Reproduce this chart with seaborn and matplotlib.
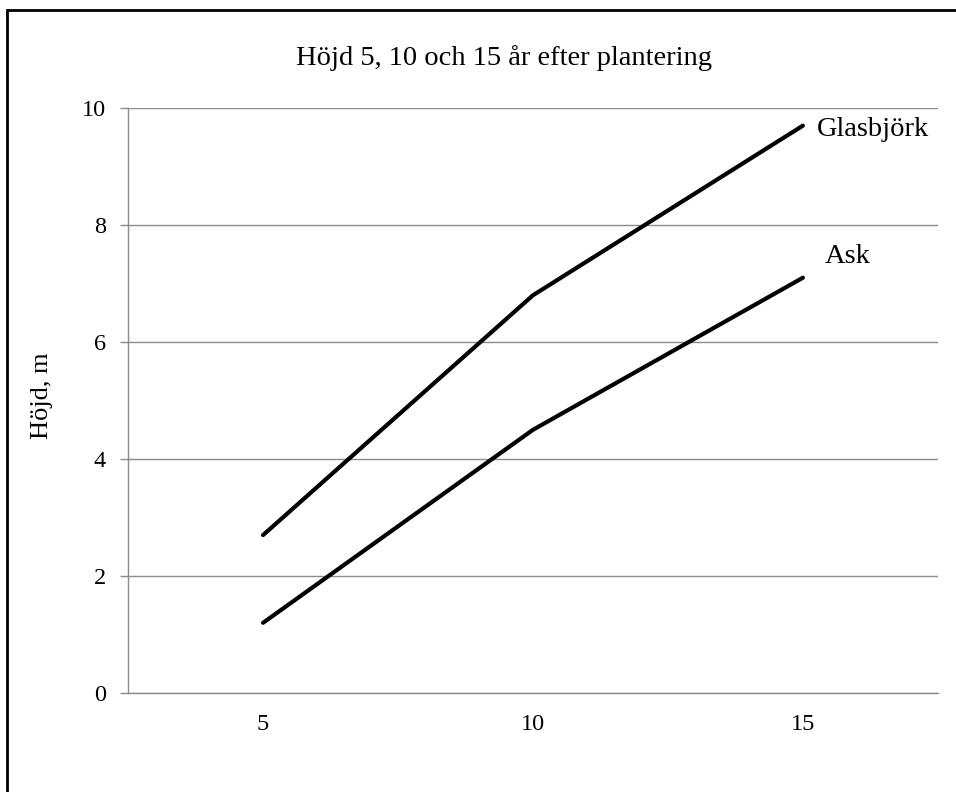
import matplotlib
matplotlib.use("Agg")
import matplotlib.pyplot as plt
import matplotlib.patches as patches
import seaborn as sns
import pandas as pd

# data
years = ["5", "10", "15"]
glasbjork = [2.7, 6.8, 9.7]
ask = [1.2, 4.5, 7.1]
series_names = ["Glasbjörk", "Ask"]

df = pd.DataFrame({
    "År": years * 2,
    "Höjd": glasbjork + ask,
    "Art": [series_names[0]] * 3 + [series_names[1]] * 3,
})

sns.set_theme(style="white")
plt.rcParams['font.family'] = ['Liberation Serif', 'DejaVu Serif']
plt.rcParams['text.color'] = 'black'

fig = plt.figure(figsize=(9.56, 7.92), dpi=100)
ax = fig.add_axes([0.134, 0.125, 0.847, 0.7385])

sns.lineplot(data=df, x="År", y="Höjd", hue="Art", sort=False,
             palette=["black", "black"], linewidth=3, legend=False, ax=ax)

ax.set_xlim(-0.5, 2.5)
ax.set_ylim(0, 10)
ax.set_yticks([0, 2, 4, 6, 8, 10])
ax.yaxis.grid(True, color="#8c8c8c", linewidth=1)
ax.set_axisbelow(True)
for side in ["top", "right"]:
    ax.spines[side].set_visible(False)
for side in ["left", "bottom"]:
    ax.spines[side].set_color("#8c8c8c")
    ax.spines[side].set_linewidth(1)
ax.tick_params(axis="y", length=6, width=1, color="#8c8c8c", labelcolor="black",
               labelsize=17.5, pad=10, left=True)
ax.tick_params(axis="x", length=0, labelsize=17.5, labelcolor="black", pad=15)
ax.set_xlabel("")
ax.set_ylabel("")

fig.text(42 / 956, 0.5, "Höjd, m", rotation=90, ha="center", va="center",
         fontsize=19)

# series labels next to the last point
ax.annotate(series_names[0], (2, glasbjork[-1]), xytext=(10, -3),
            textcoords="offset points", va="center", ha="left", fontsize=20.5)
ax.annotate(series_names[1], (2, ask[-1]), xytext=(16, 15),
            textcoords="offset points", va="center", ha="left", fontsize=20.5)

fig.text(504 / 956, 1 - 58 / 792, "Höjd 5, 10 och 15 år efter plantering",
         ha="center", va="center", fontsize=20.5)

# outer chart border (only left and top are visible in the crop)
fig.patches.append(patches.Rectangle((7 / 956, -0.1), 1.2, 1.1 - 10 / 792,
                                     transform=fig.transFigure, fill=False,
                                     edgecolor="black", linewidth=2))

fig.savefig("out.png", dpi=100)
